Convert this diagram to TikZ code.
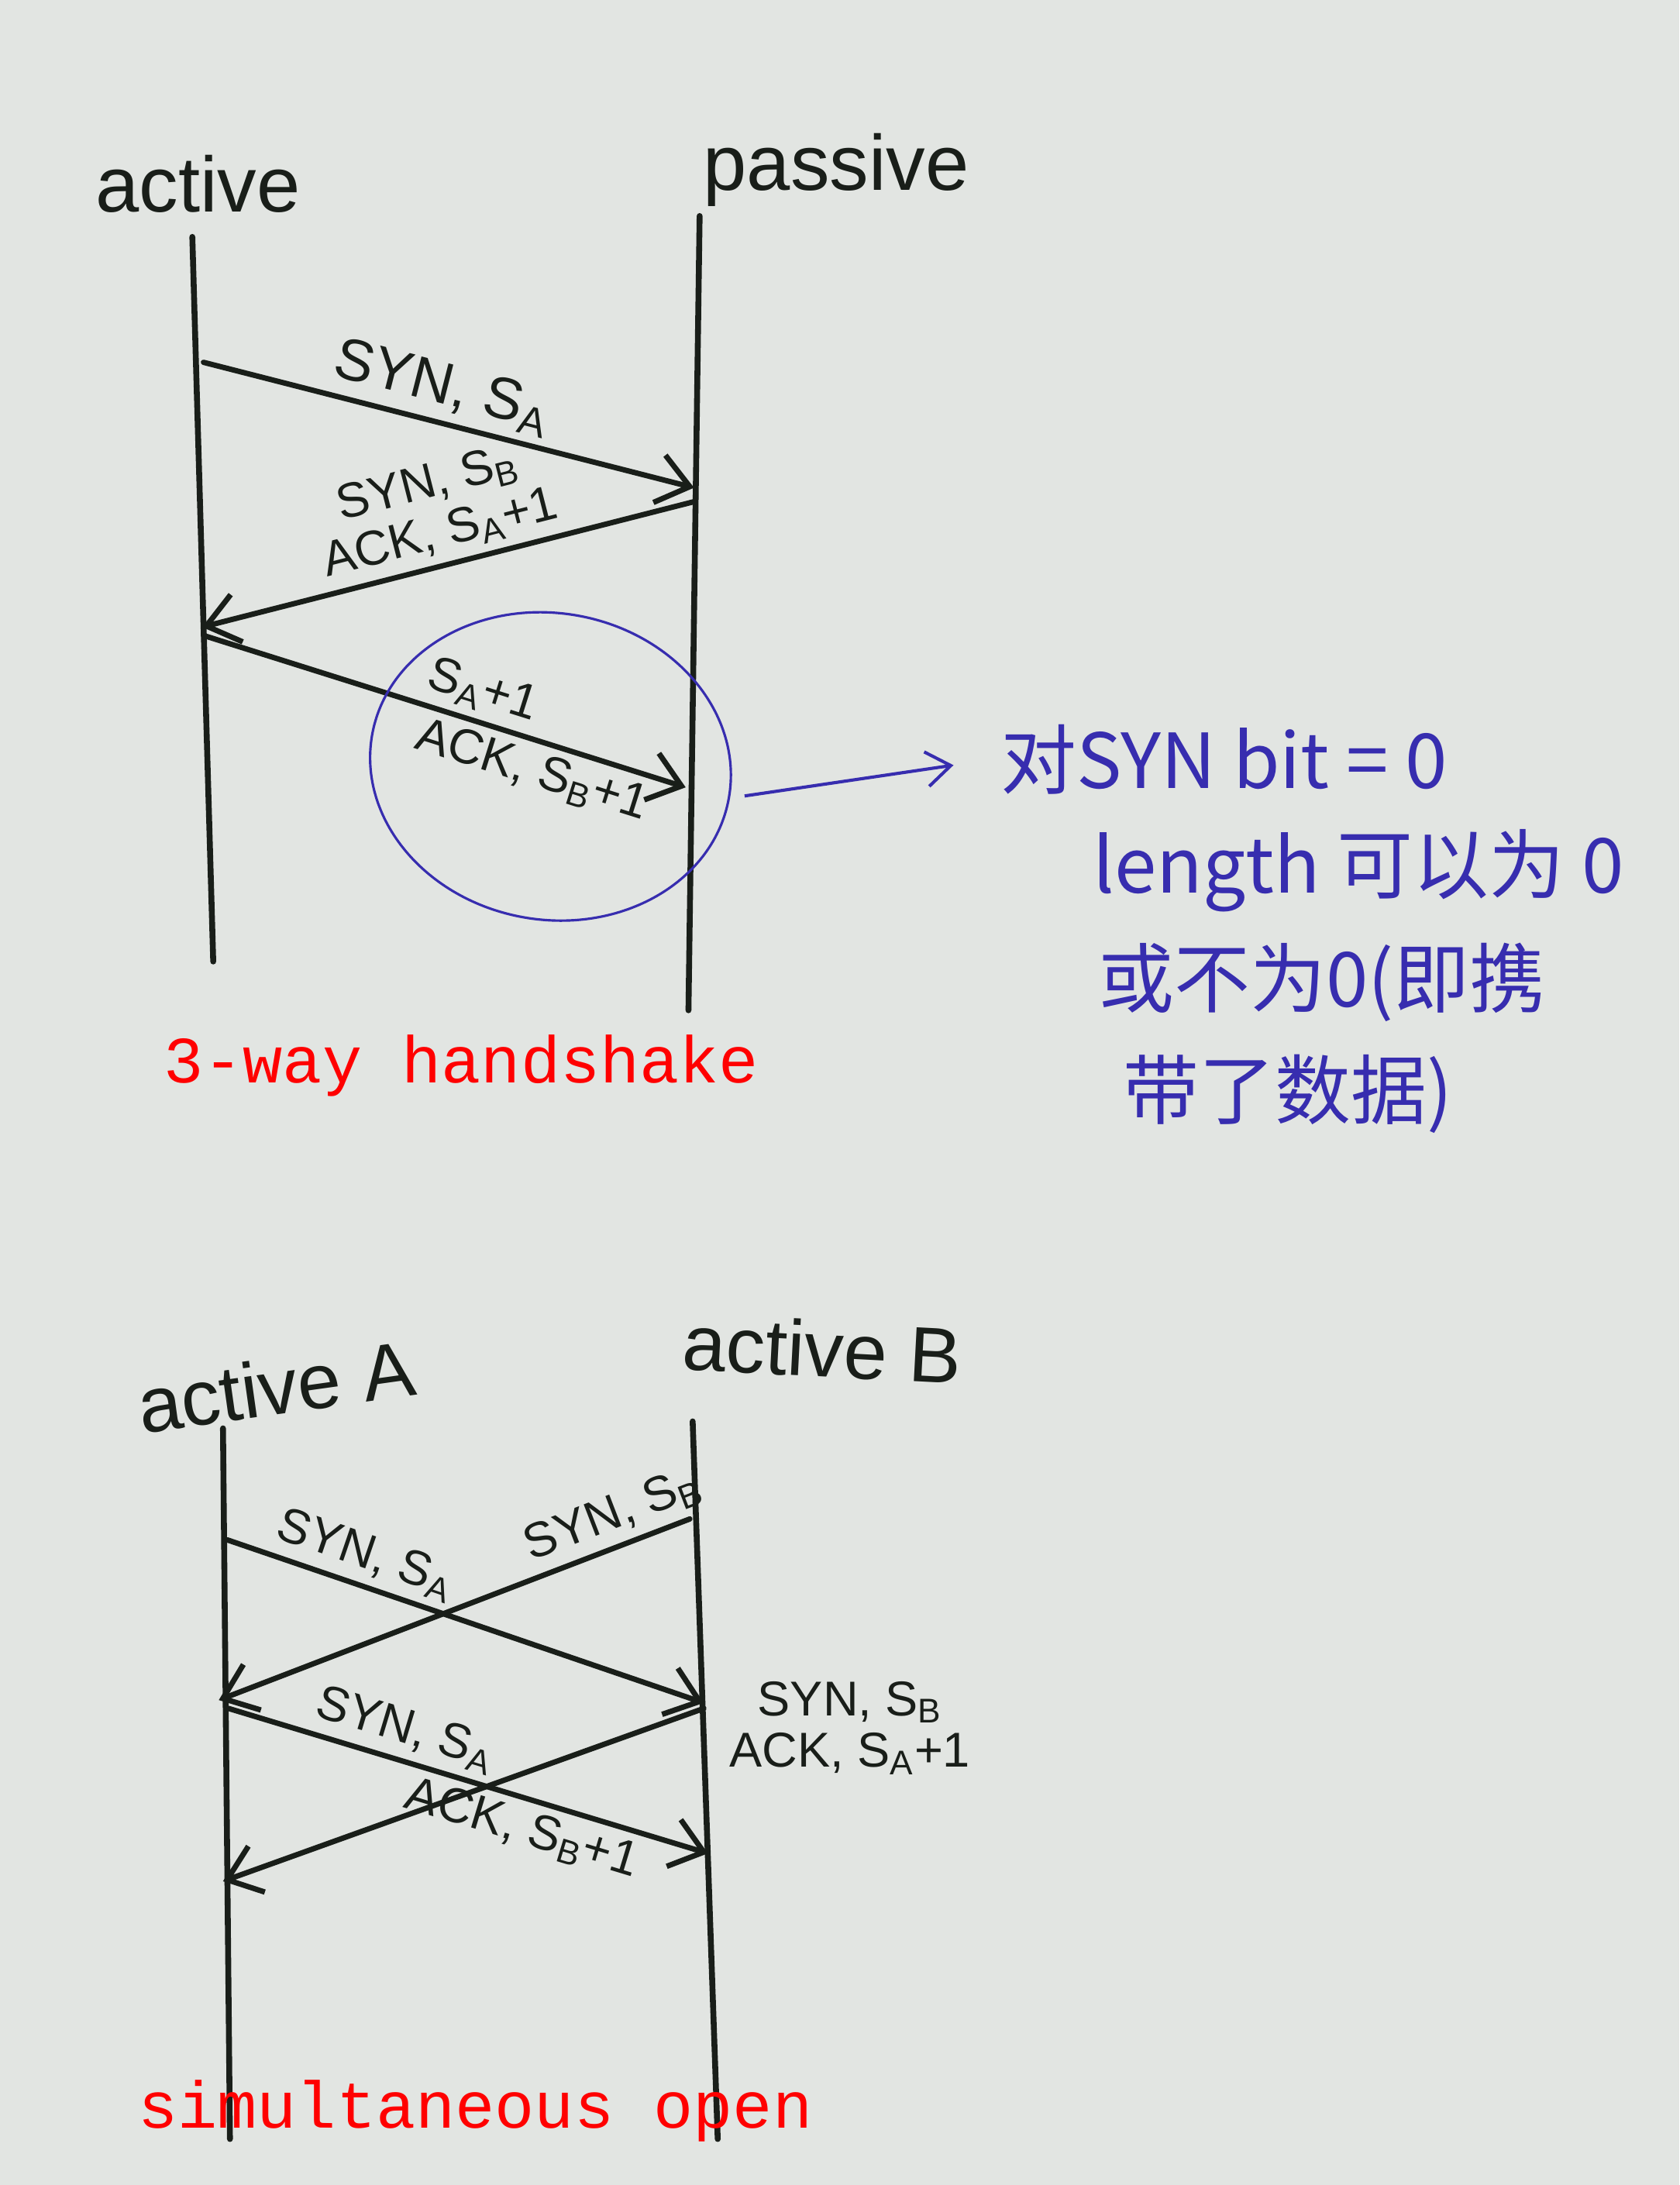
\documentclass[tikz,border=0pt]{standalone}
\usepackage{fontspec}
\setmainfont{Liberation Sans}
\newfontfamily\cjk{Noto Sans CJK SC}
\newfontfamily\maq{Liberation Mono}
\usetikzlibrary{arrows.meta,shapes.geometric}
\definecolor{papel}{RGB}{226,229,226}
\definecolor{tinta}{RGB}{25,30,25}
\definecolor{caneta}{RGB}{55,45,175}

\begin{document}
\begin{tikzpicture}[x=0.02cm, y=-0.02cm,
    vida/.style={draw=tinta, line width=2.4pt, line cap=round},
    msg/.style={draw=tinta, line width=2.2pt, line cap=round,
      -{Straight Barb[length=4.5mm, width=7mm]}},
    lbl/.style={text=tinta, font=\fontsize{20}{21}\selectfont, inner sep=3pt, align=center},
    ator/.style={text=tinta, font=\fontsize{32}{32}\selectfont},
    nota/.style={text=caneta, font=\cjk\fontsize{31}{31}\selectfont, anchor=west},
    titulo/.style={text=red, font=\maq\fontsize{27}{27}\selectfont}]
    % papel
    \fill[papel] (0,0) rectangle (1205,1568);
    \useasboundingbox (0,0) rectangle (1205,1568);

    % 3-way handshake: atores e linhas de vida
    \node[ator] (act) at (142,132) {active};
    \node[ator] (pas) at (600,122) {passive};
    \coordinate (aT) at (138,170);
    \coordinate (aB) at (153,690);
    \coordinate (pT) at (502,155);
    \coordinate (pB) at (494,725);
    \draw[vida] (aT) -- (aB);
    \draw[vida] (pT) -- (pB);

    % mensagens
    \coordinate (m1s) at (146,260);
    \coordinate (m1e) at (498,350);
    \coordinate (m2s) at (498,360);
    \coordinate (m2e) at (145,450);
    \coordinate (m3s) at (146,456);
    \coordinate (m3e) at (492,565);
    \draw[msg] (m1s) -- node[lbl, above, sloped, pos=.47, font=\fontsize{24}{26}\selectfont] (t1) {SYN, S\textsubscript{A}} (m1e);
    \draw[msg] (m2s) -- node[lbl, above, sloped, pos=.5] (t2) {SYN, S\textsubscript{B}\\ACK, S\textsubscript{A}+1} (m2e);
    \draw[msg] (m3s) -- node[lbl, above, sloped, pos=.56] (t3) {S\textsubscript{A}+1}
      node[lbl, below, sloped, pos=.7] (t4) {ACK, S\textsubscript{B}+1} (m3e);

    % nota em azul
    \node[draw=caneta, line width=1pt, ellipse, rotate=-10,
      minimum width=5.2cm, minimum height=4.4cm] (circ) at (395,550) {};
    \node[nota] (l1) at (712,545) {对SYN bit = 0};
    \node[nota] (l2) at (778,625) {length 可以为 0};
    \node[nota] (l3) at (782,705) {或不为0(即携};
    \node[nota] (l4) at (800,785) {带了数据)};
    \draw[caneta, line width=1.3pt, shorten <=6pt, shorten >=16pt,
      -{Straight Barb[length=3.5mm, width=5mm]}] (circ.east) -- (l1.west);

    \node[titulo] (hs) at (331,765) {3-way handshake};

    % simultaneous open
    \node[ator, rotate=8] (actA) at (198,995) {active A};
    \node[ator, rotate=-3] (actB) at (590,968) {active B};
    \coordinate (AT) at (160,1025);
    \coordinate (AB) at (165,1535);
    \coordinate (BT) at (497,1020);
    \coordinate (BB) at (515,1535);
    \draw[vida] (AT) -- (AB);
    \draw[vida] (BT) -- (BB);

    \coordinate (b1s) at (163,1105);
    \coordinate (b1e) at (505,1222);
    \coordinate (b2s) at (495,1090);
    \coordinate (b2e) at (157,1220);
    \coordinate (b3s) at (164,1226);
    \coordinate (b3e) at (508,1330);
    \coordinate (b4s) at (505,1226);
    \coordinate (b4e) at (160,1350);
    \draw[msg] (b1s) -- node[lbl, above, sloped, pos=.27] (u1) {SYN, S\textsubscript{A}} (b1e);
    \draw[msg] (b2s) -- node[lbl, above, sloped, pos=.14] (u2) {SYN, S\textsubscript{B}} (b2e);
    \draw[msg] (b3s) -- node[lbl, above, sloped, pos=.35] (u3) {SYN, S\textsubscript{A}}
      node[lbl, below, sloped, pos=.63] (u4) {ACK, S\textsubscript{B}+1} (b3e);
    \draw[msg] (b4s) -- (b4e);
    \node[lbl, anchor=west] (u5) at (518,1240) {SYN, S\textsubscript{B}\\ACK, S\textsubscript{A}+1};

    \node[titulo] (so) at (341,1515) {simultaneous open};
  \end{tikzpicture}
\end{document}
